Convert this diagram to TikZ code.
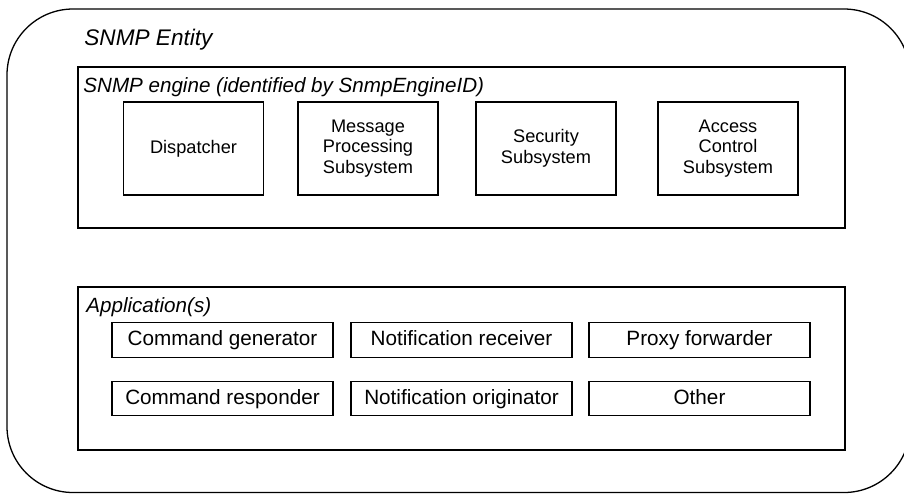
\documentclass[tikz,border=0pt]{standalone}
\usepackage{fontspec}
\setmainfont{Liberation Sans}
\tikzset{
  frame/.style={draw,line width=0.65pt,inner sep=0pt},
  part/.style={frame,minimum width=70pt,minimum height=46.5pt,align=center,font=\fontsize{9.1}{10.25}\selectfont},
  app/.style={frame,minimum width=110.5pt,minimum height=17.25pt,text height=7.6pt,text depth=2.1pt,font=\fontsize{10.35}{12}\selectfont},
  title/.style={anchor=base west,inner sep=0pt,font=\fontsize{10.3}{12}\selectfont\itshape}
}
\begin{document}
\begin{tikzpicture}[x=0.5pt,y=-0.5pt]
\useasboundingbox (0,0) rectangle (904,494);
%entity
\node[frame,rounded corners=33pt,minimum width=451.5pt,minimum height=241.75pt](entity) at (458.5,250.75){};
\node[title,font=\fontsize{11.3}{13}\selectfont\itshape](entitytitle) at (84,45){SNMP Entity};
%engine
\node[frame,minimum width=383.5pt,minimum height=80.5pt](engine) at (461.5,147.5){};
\node[title](enginetitle) at (83,92){SNMP engine (identified by SnmpEngineID)};
\foreach \n/\x/\t in {disp/193.5/Dispatcher,mps/368/{Message\\Processing\\Subsystem},sec/546/{Security\\Subsystem},acs/728/{Access\\Control\\Subsystem}}
  {\node[part](\n) at (\x,148.5){\t};}
%applications
\node[frame,minimum width=383.5pt,minimum height=81.5pt](apps) at (461.5,368.5){};
\node[title](appstitle) at (86,312){Application(s)};
\foreach \n/\x/\y/\t in {cg/222.5/340/Command generator,nr/461.5/340/Notification receiver,pf/699.5/340/Proxy forwarder,
  cr/222.5/398.5/Command responder,no/461.5/398.5/Notification originator,other/699.5/398.5/Other}
  {\node[app](\n) at (\x,\y){\t};}
\end{tikzpicture}
\end{document}
